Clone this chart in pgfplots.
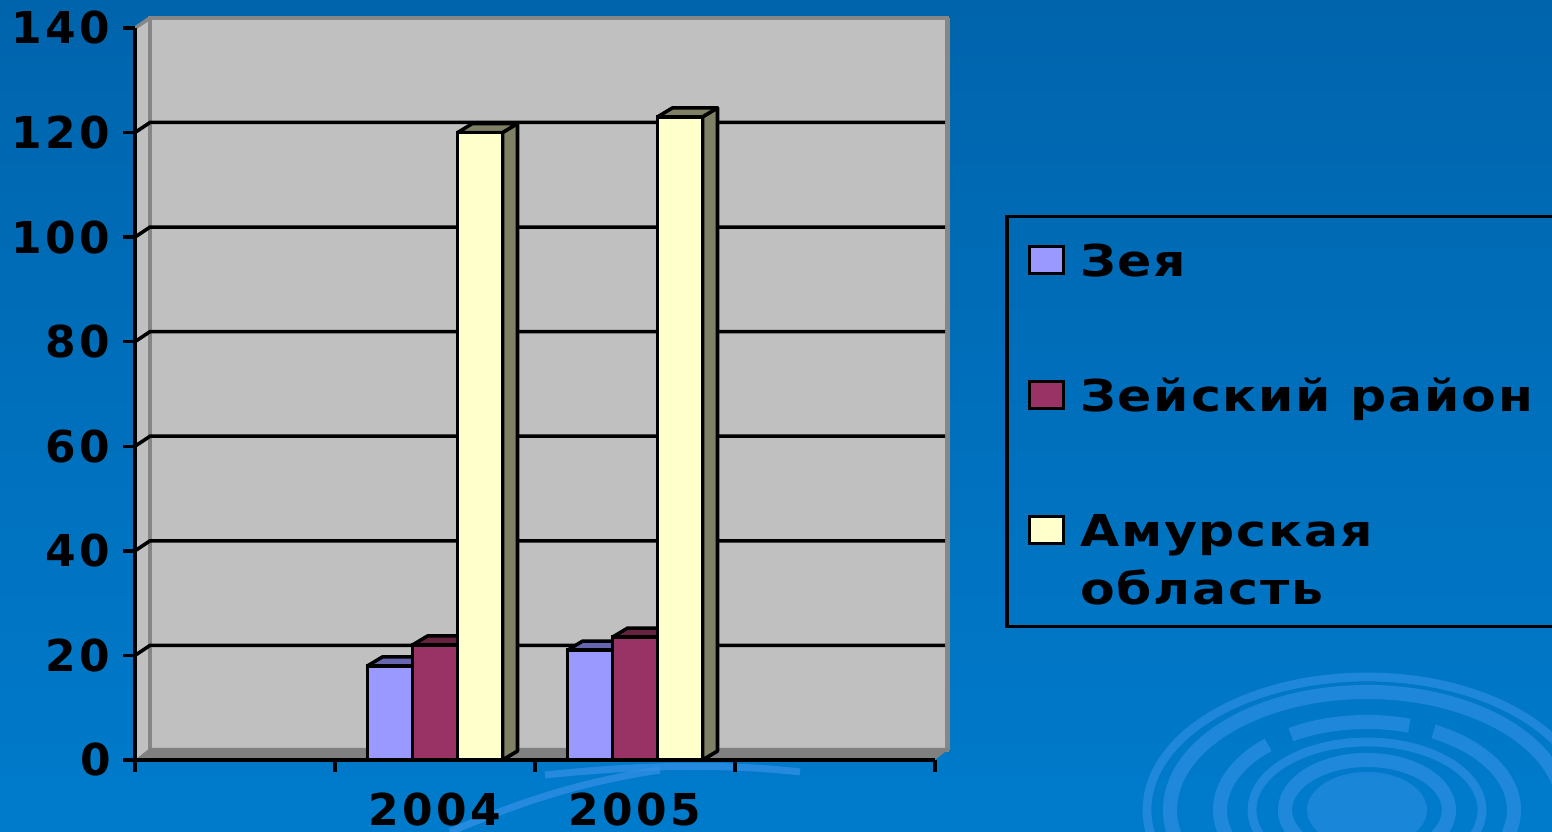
\documentclass[border=0pt]{standalone}
\usepackage{pgfplots}
\pgfplotsset{compat=1.18}
\usepackage{fontspec}
\usetikzlibrary{decorations.pathreplacing}
\newfontfamily\tickfont{DejaVu Sans}[LetterSpace=8]
\newfontfamily\legfont{DejaVu Sans}[LetterSpace=4,FakeStretch=1.15]
\newcommand\cf{\tickfont\bfseries\fontsize{12.5}{14}\selectfont}
\newcommand\lf{\legfont\bfseries\fontsize{12.5}{14}\selectfont}

\definecolor{bgtop}{HTML}{0064AC}
\definecolor{bgbot}{HTML}{007BCC}
\definecolor{wall}{HTML}{C0C0C0}
\definecolor{walledge}{HTML}{868686}
\definecolor{floorc}{HTML}{808080}
\definecolor{zeya}{HTML}{9999FF}
\definecolor{zeyatop}{HTML}{7F7FD0}
\definecolor{zeyaside}{HTML}{6666B0}
\definecolor{zr}{HTML}{993366}
\definecolor{zrtop}{HTML}{7A2952}
\definecolor{zrside}{HTML}{66223F}
\definecolor{amur}{HTML}{FFFFCC}
\definecolor{amurtop}{HTML}{D2D2A8}
\definecolor{amurside}{HTML}{808066}
\definecolor{ring}{HTML}{3592E6}

\newdimen\segdx
\newcommand\boxface[2]{%
  \pgfextractx{\segdx}{\pgfpointdiff{\tikzinputsegmentfirst}{\tikzinputsegmentlast}}%
  \ifdim\segdx<0pt \segdx=-\segdx\fi
  \ifdim\segdx<0.05pt
    \filldraw[fill=#2,draw=black,line width=1pt,line join=round]
      (\tikzinputsegmentfirst) ++(0.15cm,0.09cm) -- (\tikzinputsegmentfirst)
      -- (\tikzinputsegmentlast) -- ++(0.15cm,0.09cm) -- cycle;
  \else
    \filldraw[fill=#1,draw=black,line width=1pt,line join=round]
      (\tikzinputsegmentfirst) ++(0.15cm,0.09cm) -- (\tikzinputsegmentfirst)
      -- (\tikzinputsegmentlast) -- ++(0.15cm,0.09cm) -- cycle;
  \fi}
\tikzset{box3d/.style 2 args={preaction={decorate,
   decoration={show path construction, lineto code={\boxface{#1}{#2}}}}}}

\begin{document}
\begin{tikzpicture}
\useasboundingbox (0,0) rectangle (15.52,8.32);
\clip (0,0) rectangle (15.52,8.32);
% background
\shade[top color=bgtop, bottom color=bgbot] (0,0) rectangle (15.52,8.32);
\begin{scope}[ring, opacity=0.6]
  \draw[line width=2.5pt] (13.67,0.22) ellipse (2.20 and 1.33);
  \draw[line width=4pt] (13.67,0.22) ellipse (1.97 and 1.18);
  \draw[line width=4pt, dash pattern=on 1.2cm off 0.25cm] (13.67,0.22) ellipse (1.47 and 0.88);
  \draw[line width=2.5pt] (13.67,0.22) ellipse (1.15 and 0.68);
  \draw[line width=4pt] (13.67,0.22) ellipse (0.82 and 0.50);
  \fill[opacity=0.5] (13.67,0.22) ellipse (0.6 and 0.38);
  \draw[line width=2pt, opacity=0.7] (4.5,0.0) .. controls (5.2,0.3) and (5.8,0.5) .. (6.6,0.62);
  \draw[line width=2pt, opacity=0.7] (5.45,0.57) .. controls (6.5,0.68) and (7.3,0.68) .. (8.0,0.6);
\end{scope}
% 3D walls
\fill[wall] (1.35,0.72) -- (1.35,8.04) -- (1.50,8.14) -- (1.50,0.82) -- cycle;
\filldraw[fill=wall, draw=walledge, line width=1.3pt] (1.50,0.82) rectangle (9.47,8.14);
\fill[walledge] (9.45,0.82) rectangle (9.50,8.14);
\fill[floorc] (1.35,0.72) -- (1.50,0.84) -- (9.50,0.84) -- (9.35,0.72) -- cycle;
\draw[walledge, line width=1pt] (1.35,8.04) -- (1.50,8.14);
\foreach \v in {20,40,...,120} {
  \draw[black, line width=1pt] (1.35,{0.72+0.0522857*\v}) -- ++(0.15,0.10) -- (9.45,{0.82+0.0522857*\v});
}
\begin{axis}[
  at={(1.35cm,0.72cm)}, anchor=south west,
  scale only axis, width=8cm, height=7.32cm,
  xmin=0, xmax=4, ymin=0, ymax=140,
  axis x line*=bottom, axis y line*=left,
  axis line style={line width=1pt, -},
  ytick={0,20,...,140},
  xtick={0,1,2,3,4}, xticklabels={},
  extra x ticks={1.5,2.5}, extra x tick labels={2004,2005},
  extra x tick style={major tick length=0pt, xticklabel style={yshift=-0.2cm}},
  tick align=outside,
  major tick length=0.12cm,
  every tick/.style={black, line width=1pt},
  tick label style={font=\cf, text=black},
  /pgf/number format/assume math mode=true,
  clip=false,
  legend style={at={(axis description cs:1.0875,0.74454)}, anchor=north west,
    draw=black, line width=1pt, fill=none, inner xsep=0.21cm, inner ysep=0.05cm,
    column sep=0.15cm, row sep=0pt, font=\lf,
    cells={anchor=base west}, nodes={inner sep=0pt, text depth=, font=\lf}},
  legend image code/.code={\draw[#1, draw=black, line width=1pt] (0cm,0.03cm) rectangle (0.34cm,0.30cm);},
]
\addplot[ybar, bar width=0.45cm, bar shift=-0.45cm, fill=zeya, draw=black, line width=1pt,
  box3d={zeyatop}{zeyaside}, forget plot] coordinates {(1.5,18) (2.5,21)};
\addplot[ybar, bar width=0.45cm, bar shift=0cm, fill=zr, draw=black, line width=1pt,
  box3d={zrtop}{zrside}, forget plot] coordinates {(1.5,22) (2.5,23.5)};
\addplot[ybar, bar width=0.45cm, bar shift=0.45cm, fill=amur, draw=black, line width=1pt,
  box3d={amurtop}{amurside}, forget plot] coordinates {(1.5,120) (2.5,123)};
\addlegendimage{fill=zeya}\addlegendentry{Зея\rule[-0.5cm]{0pt}{1.05cm}}
\addlegendimage{fill=zr}\addlegendentry{Зейский район\rule[-0.5cm]{0pt}{1.35cm}}
\addlegendimage{fill=amur}\addlegendentry{Амурская\rule[-0.15cm]{0pt}{1.0cm}}
\addlegendimage{empty legend}\addlegendentry{область\rule[-0.17cm]{0pt}{0.6cm}}
\end{axis}
\end{tikzpicture}
\end{document}
